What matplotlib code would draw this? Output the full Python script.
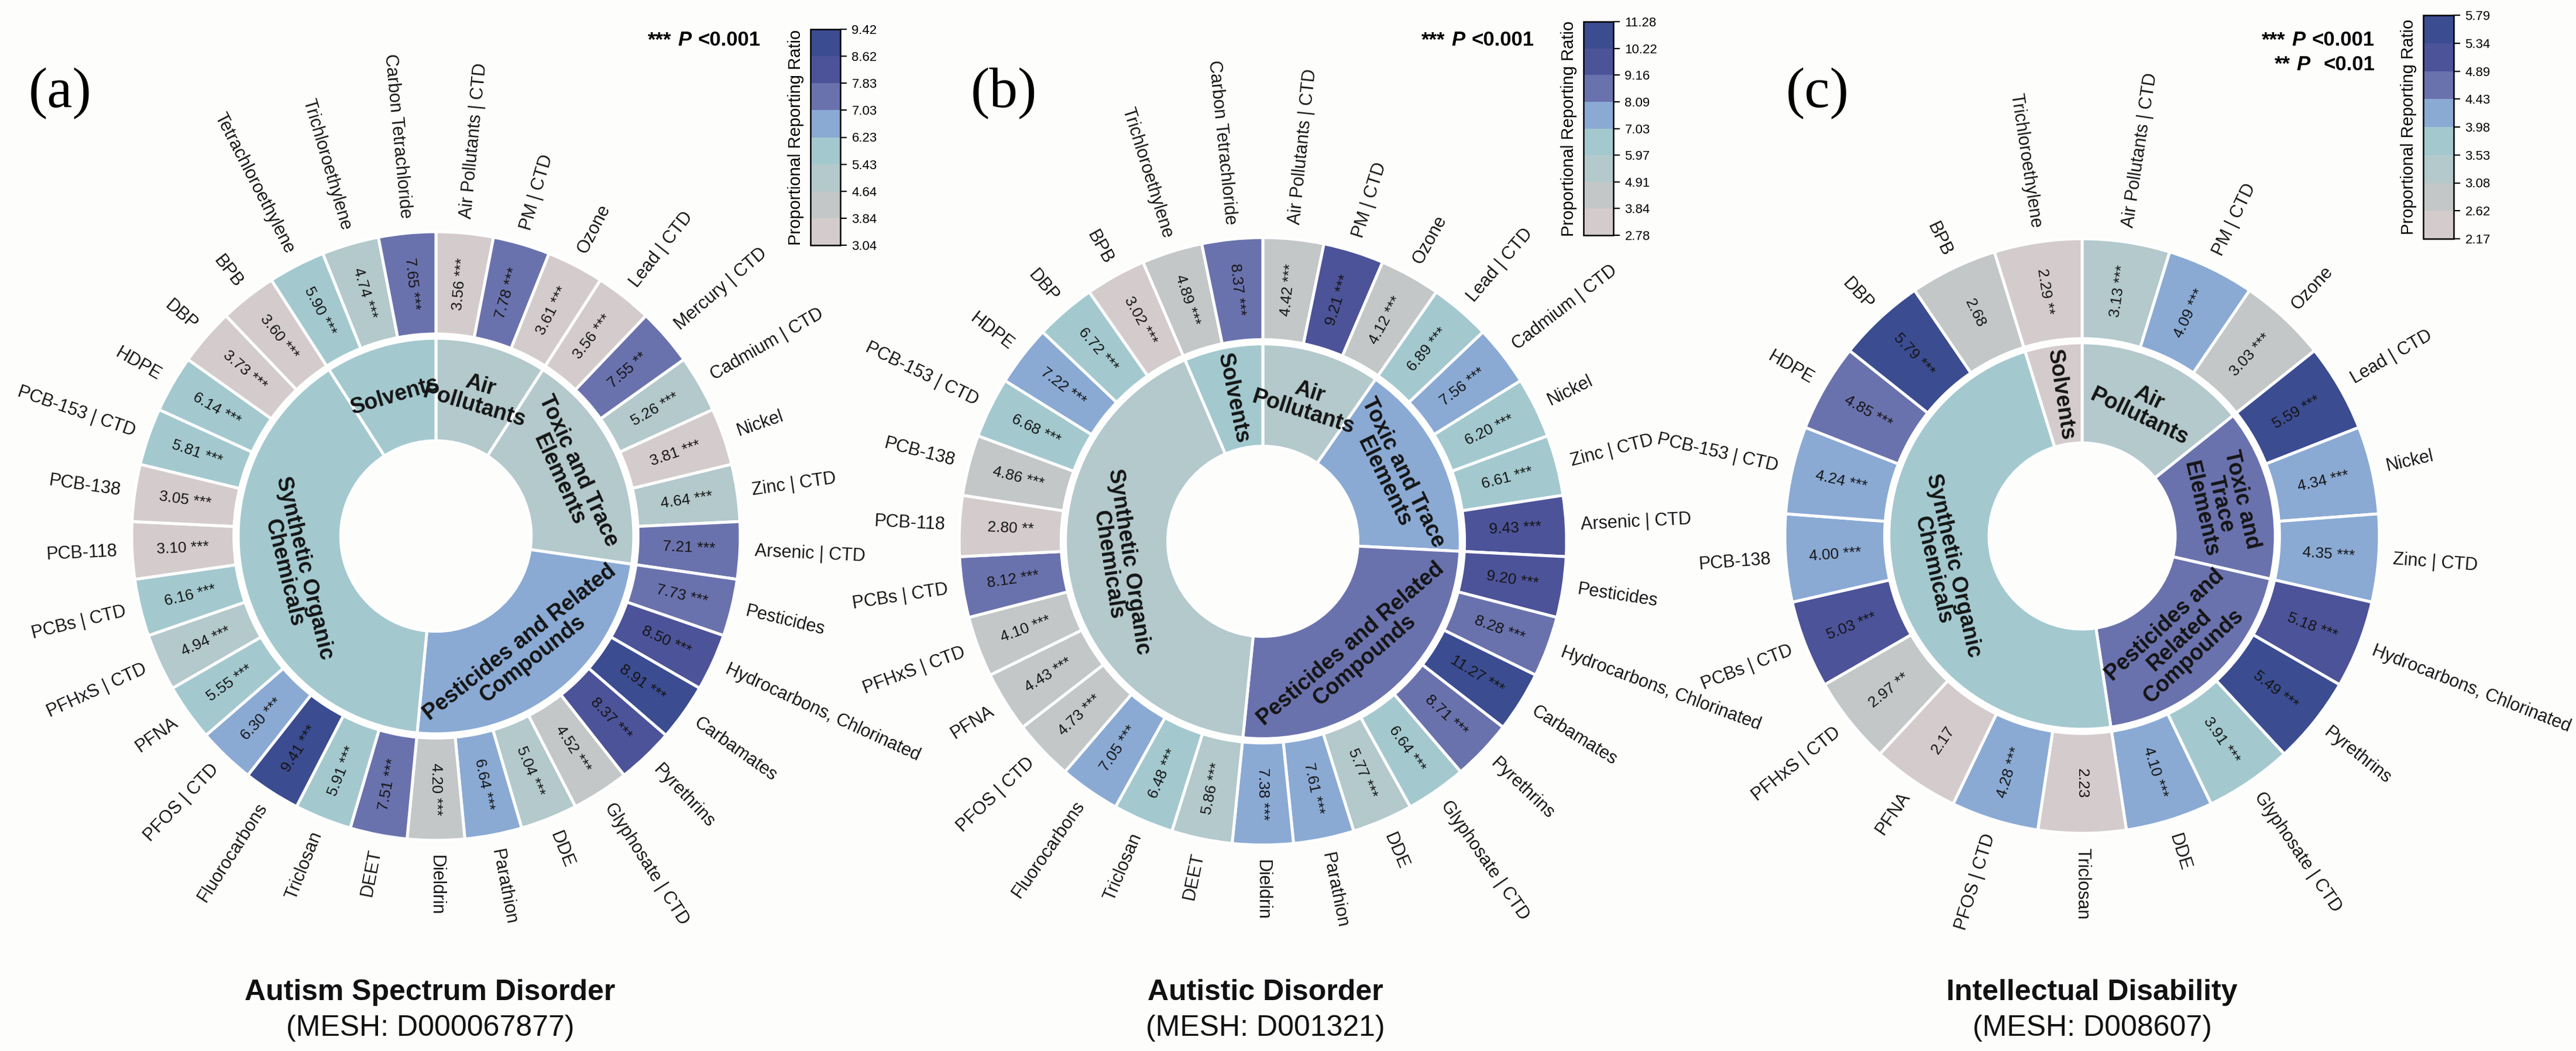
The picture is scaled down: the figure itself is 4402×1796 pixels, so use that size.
import numpy as np
import matplotlib
matplotlib.use('Agg')
import matplotlib.pyplot as plt
from matplotlib import font_manager
from matplotlib.colors import ListedColormap, BoundaryNorm
from matplotlib.cm import ScalarMappable

W, H = 4402, 1796

# ---------------- data ----------------
# (a) Autism Spectrum Disorder, clockwise from 12 o'clock
asd_names = ['Air Pollutants | CTD', 'PM | CTD', 'Ozone', 'Lead | CTD', 'Mercury | CTD',
             'Cadmium | CTD', 'Nickel', 'Zinc | CTD', 'Arsenic | CTD', 'Pesticides',
             'Hydrocarbons, Chlorinated', 'Carbamates', 'Pyrethrins', 'Glyphosate | CTD', 'DDE',
             'Parathion', 'Dieldrin', 'DEET', 'Triclosan', 'Fluorocarbons', 'PFOS | CTD', 'PFNA',
             'PFHxS | CTD', 'PCBs | CTD', 'PCB-118', 'PCB-138', 'PCB-153 | CTD', 'HDPE', 'DBP',
             'BPB', 'Tetrachloroethylene', 'Trichloroethylene', 'Carbon Tetrachloride']
asd_prr = [3.56, 7.78, 3.61, 3.56, 7.55, 5.26, 3.81, 4.64, 7.21, 7.73, 8.50, 8.91, 8.37,
           4.52, 5.04, 6.64, 4.20, 7.51, 5.91, 9.41, 6.30, 5.55, 4.94, 6.16, 3.10, 3.05,
           5.81, 6.14, 3.73, 3.60, 5.90, 4.74, 7.65]
asd_sig = ['***'] * 4 + ['**'] + ['***'] * 28
asd_groups = [3, 6, 8, 13, 3]
asd_ticks = [3.04, 3.84, 4.64, 5.43, 6.23, 7.03, 7.83, 8.62, 9.42]

# (b) Autistic Disorder
ad_names = ['Air Pollutants | CTD', 'PM | CTD', 'Ozone', 'Lead | CTD', 'Cadmium | CTD', 'Nickel',
            'Zinc | CTD', 'Arsenic | CTD', 'Pesticides', 'Hydrocarbons, Chlorinated', 'Carbamates',
            'Pyrethrins', 'Glyphosate | CTD', 'DDE', 'Parathion', 'Dieldrin', 'DEET', 'Triclosan',
            'Fluorocarbons', 'PFOS | CTD', 'PFNA', 'PFHxS | CTD', 'PCBs | CTD', 'PCB-118',
            'PCB-138', 'PCB-153 | CTD', 'HDPE', 'DBP', 'BPB', 'Trichloroethylene',
            'Carbon Tetrachloride']
ad_prr = [4.42, 9.21, 4.12, 6.89, 7.56, 6.20, 6.61, 9.43, 9.20, 8.28, 11.27, 8.71, 6.64,
          5.77, 7.61, 7.38, 5.86, 6.48, 7.05, 4.73, 4.43, 4.10, 8.12, 2.80, 4.86, 6.68,
          7.22, 6.72, 3.02, 4.89, 8.37]
ad_sig = ['***'] * 23 + ['**'] + ['***'] * 7
ad_groups = [3, 5, 8, 13, 2]
ad_ticks = [2.78, 3.84, 4.91, 5.97, 7.03, 8.09, 9.16, 10.22, 11.28]

# (c) Intellectual Disability
id_names = ['Air Pollutants | CTD', 'PM | CTD', 'Ozone', 'Lead | CTD', 'Nickel', 'Zinc | CTD',
            'Hydrocarbons, Chlorinated', 'Pyrethrins', 'Glyphosate | CTD', 'DDE', 'Triclosan',
            'PFOS | CTD', 'PFNA', 'PFHxS | CTD', 'PCBs | CTD', 'PCB-138', 'PCB-153 | CTD',
            'HDPE', 'DBP', 'BPB', 'Trichloroethylene']
id_prr = [3.13, 4.09, 3.03, 5.59, 4.34, 4.35, 5.18, 5.49, 3.91, 4.10, 2.23, 4.28, 2.17,
          2.97, 5.03, 4.00, 4.24, 4.85, 5.79, 2.68, 2.29]
id_sig = ['***'] * 10 + ['', '***', '', '**'] + ['***'] * 5 + ['', '**']
id_groups = [3, 3, 4, 10, 1]
id_ticks = [2.17, 2.62, 3.08, 3.53, 3.98, 4.43, 4.89, 5.34, 5.79]

group_labels_ab = ['Air\nPollutants', 'Toxic and Trace\nElements',
                   'Pesticides and Related\nCompounds', 'Synthetic Organic\nChemicals', 'Solvents']
group_labels_c = ['Air\nPollutants', 'Toxic and\nTrace\nElements',
                  'Pesticides and\nRelated\nCompounds', 'Synthetic Organic\nChemicals', 'Solvents']

titles = ['Autism Spectrum Disorder', 'Autistic Disorder', 'Intellectual Disability']
meshes = ['(MESH: D000067877)', '(MESH: D001321)', '(MESH: D008607)']
letters = ['(a)', '(b)', '(c)']

palette = ['#d4cccc', '#c3c7c7', '#b3c9cc', '#a3c9cf', '#8aaad4', '#6a72ad', '#4c5399', '#3b4c91']

# ---------------- fonts ----------------
plt.rcParams['font.family'] = ['Liberation Sans', 'DejaVu Sans']
installed = {f.name for f in font_manager.fontManager.ttflist}
if 'Liberation Sans Narrow' in installed:
    narrow = 'Liberation Sans Narrow'
    lab_fs, val_fs, tick_fs, cbl_fs = 27, 24, 20, 26
else:
    narrow = 'Liberation Sans'
    lab_fs, val_fs, tick_fs, cbl_fs = 22, 19, 16, 21

fig = plt.figure(figsize=(W / 100, H / 100), dpi=100)
fig.patch.set_facecolor('#fdfdfc')
ax = fig.add_axes([0, 0, 1, 1])


def sunburst(names, prr, sig, groups, glabels, ticks, cx, cy, R):
    cmap = ListedColormap(palette)
    norm = BoundaryNorm(ticks, cmap.N, clip=True)
    n = len(names)
    Y = H - cy
    prr = np.array(prr)
    starts = np.cumsum([0] + groups[:-1])
    gmean = np.add.reduceat(prr, starts) / np.array(groups)

    ax.pie(np.ones(n), radius=R, center=(cx, Y), startangle=90, counterclock=False,
           colors=cmap(norm(prr)),
           wedgeprops=dict(width=R * 0.336, edgecolor='white', linewidth=3.6))
    ax.pie(groups, radius=R * 0.65, center=(cx, Y), startangle=90, counterclock=False,
           colors=cmap(norm(gmean)),
           wedgeprops=dict(width=R * 0.337, edgecolor='white', linewidth=3.6))

    # outer ring: values and names
    for i, (name, v, s) in enumerate(zip(names, prr, sig)):
        th = 90 - (i + 0.5) * 360 / n
        t = np.deg2rad(th)
        right = np.cos(t) >= 0
        rot = th if right else th + 180
        rm = R * 0.832
        ax.text(cx + rm * np.cos(t), Y + rm * np.sin(t), (f'{v:.2f} ' + s).strip(),
                rotation=rot, rotation_mode='anchor', ha='center', va='center',
                fontsize=val_fs, family=narrow, color='#151515')
        rl = R + 25
        ax.text(cx + rl * np.cos(t), Y + rl * np.sin(t), name,
                rotation=rot, rotation_mode='anchor', ha='left' if right else 'right',
                va='center', fontsize=lab_fs, family=narrow, color='#151515')

    # inner ring: group names
    edges = np.concatenate([[0], np.cumsum(groups)])
    for k, lab in enumerate(glabels):
        mid = (edges[k] + edges[k + 1]) / 2
        th = 90 - mid * 360 / n
        t = np.deg2rad(th)
        if groups[k] * 360 / n < 30:
            rot = th if np.cos(t) >= 0 else th + 180
        else:
            rot = th - 90 if np.sin(t) > 0 else th + 90
        rg = R * 0.48
        ax.text(cx + rg * np.cos(t), Y + rg * np.sin(t), lab, rotation=rot,
                rotation_mode='anchor', ha='center', va='center', multialignment='center',
                fontsize=27, fontweight='bold', linespacing=1.0, color='#151515')
    return cmap, norm


def colorbar(cmap, norm, ticks, x0, y0, x1, y1):
    cax = fig.add_axes([x0 / W, 1 - y1 / H, (x1 - x0) / W, (y1 - y0) / H])
    cb = fig.colorbar(ScalarMappable(norm=norm, cmap=cmap), cax=cax, ticks=ticks)
    cb.ax.set_yticklabels([f'{t:.2f}' for t in ticks])
    for lab in cb.ax.get_yticklabels():
        lab.set_family(narrow)
    cb.outline.set_linewidth(1.8)
    cb.ax.tick_params(length=8, width=1.6, labelsize=tick_fs, pad=6)
    cb.ax.yaxis.set_label_position('left')
    cb.ax.set_ylabel('Proportional Reporting Ratio', fontsize=cbl_fs, family=narrow, labelpad=8)


def pnote(stars, thr, xr, y, gap):
    t1 = ax.text(xr, H - y, thr, ha='right', va='center', fontsize=25, fontweight='bold')
    t2 = ax.annotate('P', xy=(0, 0.5), xycoords=t1, xytext=(-gap, 0), textcoords='offset points',
                     ha='right', va='center', fontsize=25, fontweight='bold', fontstyle='italic')
    ax.annotate(stars, xy=(0, 0.5), xycoords=t2, xytext=(-8, 0), textcoords='offset points',
                ha='right', va='center', fontsize=25, fontweight='bold')


panels = [
    (asd_names, asd_prr, asd_sig, asd_groups, group_labels_ab, asd_ticks, 745, 916, 520),
    (ad_names, ad_prr, ad_sig, ad_groups, group_labels_ab, ad_ticks, 2158, 925, 519),
    (id_names, id_prr, id_sig, id_groups, group_labels_c, id_ticks, 3558, 916, 508),
]
cbar_boxes = [(1385, 50, 1436, 419), (2706, 37, 2757, 402), (4141, 26, 4193, 408)]
letter_xy = [(103, 160), (1715, 160), (3106, 160)]
title_x = [735, 2162, 3575]
pnote_x = [1300, 2622, 4058]

for k, (p, box, lxy, tx, px) in enumerate(zip(panels, cbar_boxes, letter_xy, title_x, pnote_x)):
    cmap, norm = sunburst(*p)
    colorbar(cmap, norm, p[5], *box)
    ax.text(lxy[0], H - lxy[1], letters[k], ha='center', va='center',
            fontsize=70, family='Liberation Serif')
    ax.text(tx, H - 1696, titles[k], ha='center', va='center',
            fontsize=36, fontweight='bold', color='#111111')
    ax.text(tx, H - 1757, meshes[k], ha='center', va='center',
            fontsize=36, color='#111111')
    pnote('***', '<0.001', px, 69, 8)

pnote('**', '<0.01', pnote_x[2], 110, 16)

ax.set_xlim(0, W)
ax.set_ylim(0, H)
ax.set_aspect('auto')
ax.axis('off')

fig.savefig('out.png', dpi=100, facecolor=fig.get_facecolor())
